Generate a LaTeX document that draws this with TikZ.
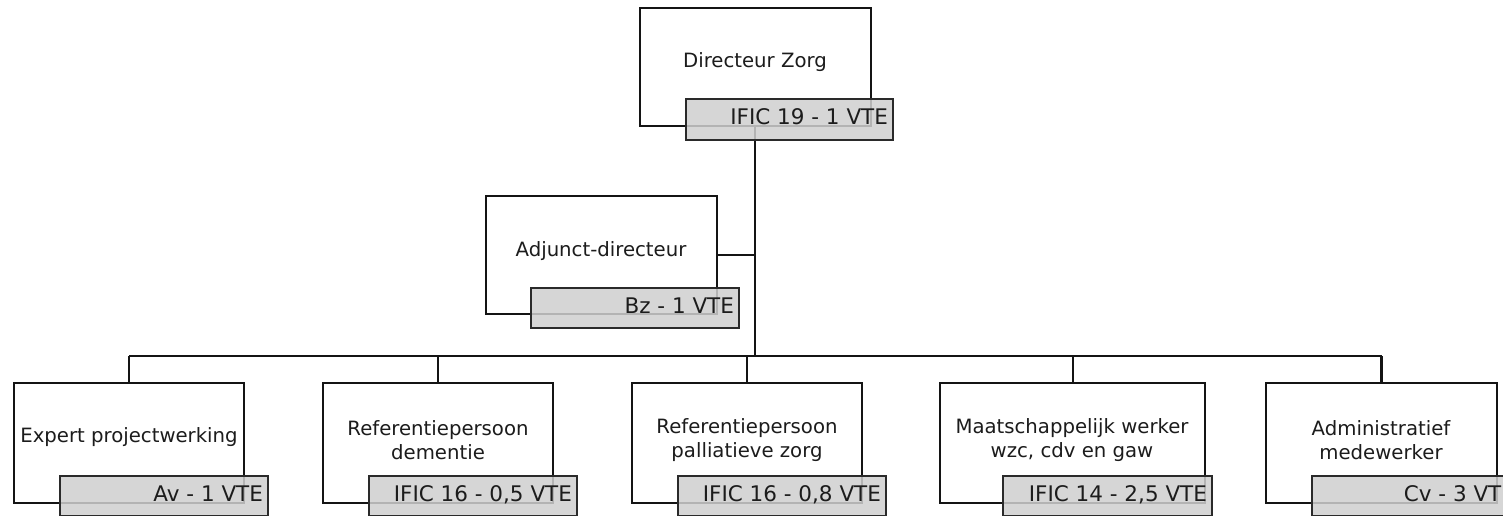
\documentclass[tikz,border=0pt]{standalone}
\usepackage{fontspec}
\setmainfont{DejaVu Sans}
\definecolor{lineblk}{HTML}{141414}
\definecolor{txtc}{HTML}{1C1C1C}
\definecolor{tagfill}{HTML}{CFCFCF}
\definecolor{tagline}{HTML}{2A2A2A}
\begin{document}
\begin{tikzpicture}[x=1pt,y=-1pt,
  box/.style={draw=lineblk,line width=2.3pt,fill=white,rectangle,inner sep=0pt,minimum height=118pt,minimum width=231pt},
  tag/.style={draw=tagline,line width=2.3pt,fill=tagfill,fill opacity=0.85,draw opacity=1,rectangle,inner sep=0pt,minimum height=40pt,minimum width=208pt},
  txt/.style={text=txtc,align=center,font=\fontsize{19.7}{24}\selectfont,inner sep=0pt},
  lbl/.style={text=txtc,anchor=base east,font=\fontsize{21.5}{24}\selectfont,inner sep=0pt,text opacity=1},
  link/.style={draw=lineblk,line width=2.3pt}]
\useasboundingbox (0,0) rectangle (1503,516);
% coordinates for connectors
\coordinate (mainbot) at (755,356);
\coordinate (hl) at (129,356);
\coordinate (hr) at (1381.5,356);
\coordinate (j2) at (438,356);
\coordinate (j3) at (747,356);
\coordinate (j4) at (1073,356);
\coordinate (ja) at (755,255);
% boxes
\node[box] (dz) at (755.5,67) {};
\node[box] (ad) at (601.5,255) {};
\node[box,minimum height=120pt,minimum width=230pt] (b1) at (129,443) {};
\node[box,minimum height=120pt,minimum width=230pt] (b2) at (438,443) {};
\node[box,minimum height=120pt,minimum width=230pt] (b3) at (747,443) {};
\node[box,minimum height=120pt,minimum width=265pt] (b4) at (1072.5,443) {};
\node[box,minimum height=120pt,minimum width=231pt] (b5) at (1381.5,443) {};
% connectors
\draw[link] (dz.south -| mainbot) -- (mainbot);
\draw[link] (ad.east) -- (ja);
\draw[link] (hl) -- (hr);
\draw[link] (hl) -- (b1.north -| hl);
\draw[link] (j2) -- (b2.north -| j2);
\draw[link] (j3) -- (b3.north -| j3);
\draw[link] (j4) -- (b4.north -| j4);
\draw[link] (hr) -- (b5.north -| hr);
% texts
\node[txt] (tdz) at (755,62) {Directeur Zorg};
\node[txt] (tad) at (601,251) {Adjunct-directeur};
\node[txt] (t1) at (129,437) {Expert projectwerking};
\node[txt] (t2) at (438,440) {Referentiepersoon\\dementie};
\node[txt] (t3) at (747,440) {Referentiepersoon\\palliatieve zorg};
\node[txt] (t4) at (1072,440) {Maatschappelijk werker\\wzc, cdv en gaw};
\node[txt] (t5) at (1381,440) {Administratief\\medewerker};
% tags
\node[tag,minimum height=41pt,minimum width=207pt] (gdz) at (789.5,119.5) {};
\node[tag] (gad) at (635,308) {};
\node[tag] (g1) at (164,496) {};
\node[tag] (g2) at (473,496) {};
\node[tag] (g3) at (782,496) {};
\node[tag,minimum width=209pt] (g4) at (1107.5,496) {};
\node[tag] (g5) at (1416,496) {};
% tag texts
\node[lbl] at ([xshift=-6pt,yshift=-27pt]gdz.north east) {IFIC 19 - 1 VTE};
\node[lbl] at ([xshift=-6pt,yshift=-27pt]gad.north east) {Bz - 1 VTE};
\node[lbl] at ([xshift=-6pt,yshift=-27pt]g1.north east) {Av - 1 VTE};
\node[lbl] at ([xshift=-6pt,yshift=-27pt]g2.north east) {IFIC 16 - 0,5 VTE};
\node[lbl] at ([xshift=-6pt,yshift=-27pt]g3.north east) {IFIC 16 - 0,8 VTE};
\node[lbl] at ([xshift=-6pt,yshift=-27pt]g4.north east) {IFIC 14 - 2,5 VTE};
\node[lbl] at ([xshift=-6pt,yshift=-27pt]g5.north east) {Cv - 3 VTE};
\end{tikzpicture}
\end{document}
